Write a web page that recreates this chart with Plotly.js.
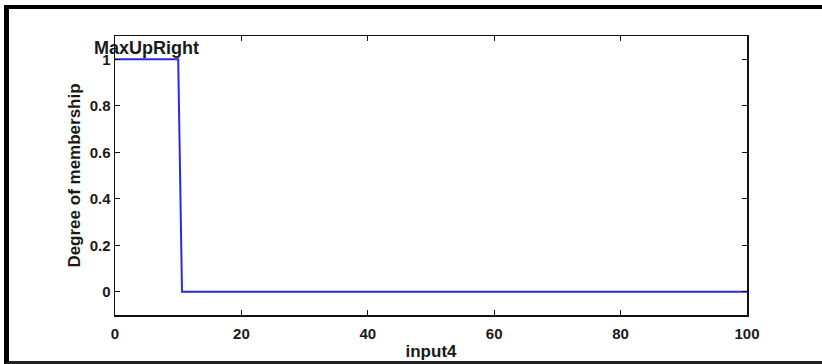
<!DOCTYPE html>
<html>
<head>
<meta charset="utf-8">
<script src="https://cdn.plot.ly/plotly-3.0.1.min.js"></script>
<style>
  html, body { margin: 0; padding: 0; background: #fff; overflow: hidden; }
  #frame { position: absolute; left: 4px; top: 5px; width: 900px; height: 352px;
           border-left: 5px solid #000; border-top: 4px solid #000; border-bottom: 3px solid #222; }
  #chart { position: absolute; left: 0; top: 0; width: 822px; height: 364px; }
</style>
</head>
<body>
<div id="frame"></div>
<div id="chart"></div>
<script>
// Membership function "MaxUpRight" of input4
const mfX = [0, 10, 10.6, 100];
const mfY = [1, 1, 0, 0];
const mfName = "MaxUpRight";
const xTicks = [0, 20, 40, 60, 80, 100];
const yTicks = [0, 0.2, 0.4, 0.6, 0.8, 1];
const yTickLabels = ["0", "0.2", "0.4", "0.6", "0.8", "1"];

const font = { family: "Liberation Sans, Arial, sans-serif", color: "#1a1a1a", size: 15, weight: "bold" };

Plotly.newPlot("chart", [{
  x: mfX, y: mfY, type: "scatter", mode: "lines",
  line: { color: "#2b2bdc", width: 2 }, hoverinfo: "skip"
}], {
  width: 822, height: 364,
  margin: { l: 115, r: 75, t: 36, b: 49 },
  paper_bgcolor: "rgba(0,0,0,0)", plot_bgcolor: "#fff",
  showlegend: false,
  font: font,
  xaxis: {
    range: [0, 100], tickvals: xTicks, ticks: "inside", ticklen: 5,
    showline: true, mirror: "ticks", linecolor: "#111", linewidth: 1.5, tickcolor: "#111",
    showgrid: false, zeroline: false, tickfont: font, ticklabelstandoff: 4,
    title: { text: "input4", font: Object.assign({}, font, { size: 17 }), standoff: 4 }
  },
  yaxis: {
    range: [-0.1, 1.1], tickvals: yTicks, ticktext: yTickLabels, ticks: "inside", ticklen: 5,
    showline: true, mirror: "ticks", linecolor: "#111", linewidth: 1.5, tickcolor: "#111",
    showgrid: false, zeroline: false, tickfont: font,
    title: { text: "Degree of membership", font: Object.assign({}, font, { size: 17 }), standoff: 4 }
  },
  annotations: [{
    x: 5, y: 1.05, xref: "x", yref: "y", text: mfName, showarrow: false,
    font: Object.assign({}, font, { size: 18 }), xanchor: "center", yanchor: "middle"
  }]
}, { displayModeBar: false, staticPlot: true });
</script>
</body>
</html>
